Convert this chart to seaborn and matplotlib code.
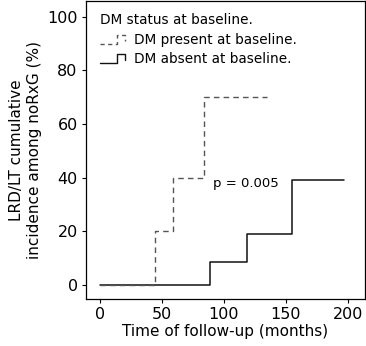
import numpy as np
import pandas as pd
import matplotlib
matplotlib.use("Agg")
import matplotlib.pyplot as plt
from matplotlib.legend_handler import HandlerBase
from matplotlib.lines import Line2D
import seaborn as sns

# step-function data
present_time = [0, 44, 59, 84, 135]
present_inc = [0, 20, 40, 70, 70]
absent_time = [0, 89, 119, 155, 197]
absent_inc = [0, 8.5, 19, 39, 39]

x_ticks = [0, 50, 100, 150, 200]
y_ticks = [0, 20, 40, 60, 80, 100]

sns.set_style("ticks")
plt.rcParams['font.family'] = ['DejaVu Sans']
plt.rcParams.update({"text.color": "black", "axes.labelcolor": "black",
                     "xtick.color": "black", "ytick.color": "black"})


class StepHandler(HandlerBase):
    # draws the little step glyph used in the legend
    def create_artists(self, legend, orig_handle, xdescent, ydescent,
                       width, height, fontsize, trans):
        xs = np.array([0, 0.62, 0.62, 0.92, 0.92]) * width - xdescent
        ys = np.array([0.0, 0.0, 0.95, 0.95, 0.3]) * height - ydescent
        line = Line2D(xs, ys, color=orig_handle.get_color(),
                      linestyle=orig_handle.get_linestyle(),
                      linewidth=orig_handle.get_linewidth(),
                      transform=trans)
        if orig_handle.get_linestyle() == '--':
            line.set_dashes((3, 2.5))
        return [line]


fig = plt.figure(figsize=(3.66, 3.46), dpi=100)
ax = fig.add_axes([0.235, 0.136, 0.762, 0.862])

df_p = pd.DataFrame({"time": present_time, "inc": present_inc})
df_a = pd.DataFrame({"time": absent_time, "inc": absent_inc})

sns.lineplot(data=df_a, x="time", y="inc", estimator=None, ax=ax,
             drawstyle="steps-post", color="#111111", linewidth=1.1)
sns.lineplot(data=df_p, x="time", y="inc", estimator=None, ax=ax,
             drawstyle="steps-post", color="#555555", linewidth=1.0)
ax.lines[-1].set_dashes((4, 3))

ax.set_xlim(-11.5, 214)
ax.set_ylim(-5.2, 106)
ax.set_xticks(x_ticks)
ax.set_yticks(y_ticks)
ax.tick_params(labelsize=11.5, length=3, width=0.8, color="black", pad=3)
for s in ax.spines.values():
    s.set_visible(True)
    s.set_color("black")
    s.set_linewidth(0.9)

ax.set_xlabel("Time of follow-up (months)", fontsize=11, labelpad=1)
ax.set_ylabel("LRD/LT cumulative\nincidence among noRxG (%)", fontsize=11,
              labelpad=4)

ax.text(91, 38, "p = 0.005", fontsize=9.5, va="center", ha="left")

h_p = Line2D([], [], color="#555555", linestyle="--", linewidth=1.0)
h_a = Line2D([], [], color="#111111", linestyle="-", linewidth=1.0)
leg = ax.legend([h_p, h_a],
                ["DM present at baseline.", "DM absent at baseline."],
                handler_map={h_p: StepHandler(), h_a: StepHandler()},
                title="DM status at baseline.", loc="upper left",
                bbox_to_anchor=(0.02, 0.985), frameon=False, fontsize=9.8,
                title_fontsize=9.8, handlelength=2.0, handletextpad=0.55,
                labelspacing=0.4, borderaxespad=0.2)
leg._legend_box.align = "left"

fig.savefig("out.png", dpi=100)
